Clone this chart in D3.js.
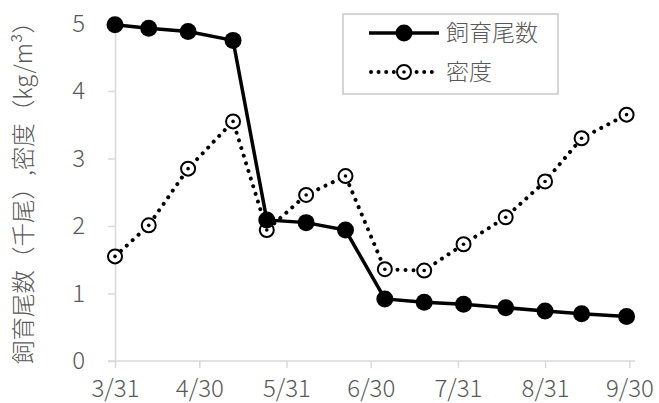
<!DOCTYPE html>
<html>
<head>
<meta charset="utf-8">
<script src="https://cdn.jsdelivr.net/npm/d3@7"></script>
<style>
  body { margin: 0; background: #fff; }
  text { font-family: "Noto Sans CJK JP", "Noto Sans", sans-serif; font-weight: 300; fill: #595959; }
</style>
</head>
<body>
<script>
// sampling dates
var dates = ['2021-03-31', '2021-04-12', '2021-04-26', '2021-05-12', '2021-05-24', '2021-06-07', '2021-06-21',
  '2021-07-05', '2021-07-19', '2021-08-02', '2021-08-17', '2021-08-31', '2021-09-13', '2021-09-29'];

// 飼育尾数 (千尾)
var countValues = [4.98, 4.93, 4.88, 4.75, 2.09, 2.05, 1.94, 0.92, 0.87, 0.84, 0.79, 0.74, 0.70, 0.66];
// 密度 (kg/m3)
var densityValues = [1.55, 2.01, 2.85, 3.55, 1.94, 2.46, 2.74, 1.36, 1.34, 1.73, 2.13, 2.66, 3.30, 3.65];

var xTickDates = ['2021-03-31', '2021-04-30', '2021-05-31', '2021-06-30', '2021-07-31', '2021-08-31', '2021-09-30'];
var xTickLabels = ['3/31', '4/30', '5/31', '6/30', '7/31', '8/31', '9/30'];
var yTicks = [0, 1, 2, 3, 4, 5];
var seriesNames = ['飼育尾数', '密度'];
var yTitle = '飼育尾数（千尾）,密度（kg/m³）';

var W = 659, H = 403;
var margin = { top: 23.5, right: 24, bottom: 42, left: 115 };

var parse = d3.timeParse('%Y-%m-%d');

var x = d3.scaleTime()
  .domain([parse('2021-03-31'), parse('2021-10-02')])
  .range([margin.left, W - margin.right]);

var y = d3.scaleLinear()
  .domain([0, 5])
  .range([H - margin.bottom, margin.top]);

var svg = d3.select('body').append('svg')
  .attr('width', W)
  .attr('height', H);

var axisColor = '#d9d9d9';

// x axis
var xAxis = svg.append('g')
  .attr('transform', 'translate(0,' + y(0) + ')')
  .call(d3.axisBottom(x)
    .tickValues(xTickDates.map(parse))
    .tickFormat(function(d, i) { return xTickLabels[i]; })
    .tickSizeInner(7)
    .tickSizeOuter(0)
    .tickPadding(12));
xAxis.select('.domain').attr('stroke', axisColor).attr('stroke-width', 1.5)
  .attr('d', 'M' + (margin.left - 7) + ',0H' + (W - margin.right));
xAxis.selectAll('.tick line').attr('stroke', axisColor).attr('stroke-width', 1.5);
xAxis.selectAll('.tick text').attr('font-size', 24).attr('fill', '#595959')
  .attr('font-family', null);

// y axis
var yAxis = svg.append('g')
  .attr('transform', 'translate(' + margin.left + ',0)')
  .call(d3.axisLeft(y)
    .tickValues(yTicks)
    .tickFormat(d3.format('d'))
    .tickSizeInner(7)
    .tickSizeOuter(0)
    .tickPadding(23));
yAxis.select('.domain').attr('stroke', axisColor).attr('stroke-width', 1.5);
yAxis.selectAll('.tick text').attr('font-size', 24).attr('fill', '#595959')
  .attr('font-family', null);
yAxis.selectAll('.tick line').attr('stroke', axisColor).attr('stroke-width', 1.5);

// y title
svg.append('text')
  .attr('transform', 'translate(32,187) rotate(-90)')
  .attr('text-anchor', 'middle')
  .attr('font-size', 23.5)
  .text(yTitle);

var countData = dates.map(function(d, i) { return { date: parse(d), v: countValues[i] }; });
var densityData = dates.map(function(d, i) { return { date: parse(d), v: densityValues[i] }; });

var line = d3.line()
  .x(function(d) { return x(d.date); })
  .y(function(d) { return y(d.v); });

// density (dotted, open circles)
svg.append('path')
  .datum(densityData)
  .attr('d', line)
  .attr('fill', 'none')
  .attr('stroke', '#000')
  .attr('stroke-width', 4)
  .attr('stroke-linecap', 'round')
  .attr('stroke-dasharray', '0.001 8');

var dMarks = svg.selectAll('g.dmark')
  .data(densityData)
  .enter().append('g')
  .attr('class', 'dmark')
  .attr('transform', function(d) { return 'translate(' + x(d.date) + ',' + y(d.v) + ')'; });
dMarks.append('circle').attr('r', 7).attr('fill', '#fff').attr('stroke', '#000').attr('stroke-width', 2);
dMarks.append('circle').attr('r', 1.8).attr('fill', '#000');

// count (solid, filled circles)
svg.append('path')
  .datum(countData)
  .attr('d', line)
  .attr('fill', 'none')
  .attr('stroke', '#000')
  .attr('stroke-width', 3.5);

svg.selectAll('circle.cmark')
  .data(countData)
  .enter().append('circle')
  .attr('class', 'cmark')
  .attr('cx', function(d) { return x(d.date); })
  .attr('cy', function(d) { return y(d.v); })
  .attr('r', 8.5)
  .attr('fill', '#000');

// legend
var legend = svg.append('g');
legend.append('rect')
  .attr('x', 343).attr('y', 14)
  .attr('width', 215).attr('height', 80)
  .attr('fill', '#fff')
  .attr('stroke', '#c8c8c8')
  .attr('stroke-width', 1.5);

legend.append('line')
  .attr('x1', 369).attr('x2', 439).attr('y1', 33).attr('y2', 33)
  .attr('stroke', '#000').attr('stroke-width', 3.5);
legend.append('circle').attr('cx', 404).attr('cy', 33).attr('r', 8.5).attr('fill', '#000');

legend.append('line')
  .attr('x1', 371).attr('x2', 439).attr('y1', 72).attr('y2', 72)
  .attr('stroke', '#000').attr('stroke-width', 4)
  .attr('stroke-linecap', 'round')
  .attr('stroke-dasharray', '0.001 7.6');
legend.append('circle').attr('cx', 404).attr('cy', 72).attr('r', 7)
  .attr('fill', '#fff').attr('stroke', '#000').attr('stroke-width', 2);
legend.append('circle').attr('cx', 404).attr('cy', 72).attr('r', 1.8).attr('fill', '#000');

legend.selectAll('text.lab')
  .data(seriesNames)
  .enter().append('text')
  .attr('class', 'lab')
  .attr('x', 446)
  .attr('y', function(d, i) { return i === 0 ? 33 : 72; })
  .attr('dy', '0.36em')
  .attr('font-size', 23)
  .text(function(d) { return d; });
</script>
</body>
</html>
